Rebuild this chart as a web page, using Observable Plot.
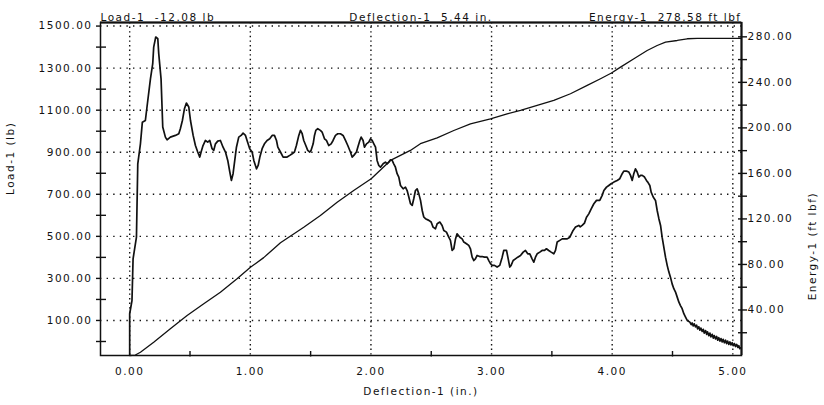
<!DOCTYPE html>
<html><head><meta charset="utf-8">
<script src="https://cdn.jsdelivr.net/npm/d3@7"></script>
<script src="https://cdn.jsdelivr.net/npm/@observablehq/plot@0.6"></script>
<style>html,body{margin:0;padding:0;background:#fff;}</style>
</head><body><div id="chart"></div>
<script>
// Load-1 (lb) versus Deflection-1 (in.)
const loadCurve = [
[0,-65],[0,132],[0.019,195],[0.028,393],[0.056,496],[0.067,845],[0.089,940],[0.105,1043],[0.130,1051],[0.150,1146],
[0.172,1249],[0.191,1321],[0.199,1400],[0.216,1448],[0.233,1440],[0.241,1368],[0.260,1249],[0.274,1020],[0.296,972],[0.310,959],
[0.337,972],[0.379,980],[0.407,988],[0.420,1012],[0.437,1051],[0.454,1107],[0.470,1134],[0.490,1115],[0.504,1051],[0.526,980],
[0.545,932],[0.564,901],[0.581,877],[0.592,901],[0.608,932],[0.628,956],[0.647,948],[0.664,956],[0.683,917],[0.697,909],
[0.711,940],[0.730,953],[0.752,956],[0.774,924],[0.794,901],[0.813,861],[0.830,806],[0.843,766],[0.857,798],[0.871,861],
[0.885,924],[0.904,972],[0.924,980],[0.940,991],[0.960,980],[0.973,956],[0.995,917],[1.015,901],[1.029,861],[1.051,821],
[1.065,837],[1.079,877],[1.098,917],[1.117,940],[1.139,956],[1.161,964],[1.181,980],[1.200,980],[1.217,956],[1.228,924],
[1.250,901],[1.272,877],[1.305,877],[1.327,885],[1.347,893],[1.366,901],[1.382,932],[1.402,980],[1.416,1004],[1.430,988],
[1.443,956],[1.460,932],[1.476,909],[1.493,901],[1.504,909],[1.521,940],[1.532,980],[1.543,1004],[1.559,1012],[1.581,1004],
[1.595,996],[1.615,964],[1.631,956],[1.650,932],[1.670,940],[1.686,956],[1.706,980],[1.725,988],[1.747,988],[1.769,980],
[1.789,956],[1.808,932],[1.830,901],[1.844,877],[1.858,885],[1.880,901],[1.891,924],[1.908,956],[1.919,972],[1.935,956],
[1.946,924],[1.963,940],[1.982,948],[1.996,964],[2.010,956],[2.024,940],[2.038,924],[2.051,861],[2.065,837],[2.079,829],
[2.101,845],[2.120,853],[2.134,845],[2.148,853],[2.162,864],[2.176,861],[2.189,845],[2.203,829],[2.217,798],[2.231,782],
[2.245,742],[2.267,726],[2.286,734],[2.300,718],[2.314,687],[2.328,655],[2.342,647],[2.355,679],[2.369,718],[2.383,726],
[2.397,702],[2.411,671],[2.425,623],[2.438,592],[2.452,584],[2.480,576],[2.499,568],[2.515,544],[2.535,536],[2.549,560],
[2.571,568],[2.590,552],[2.604,528],[2.626,520],[2.645,496],[2.659,481],[2.673,433],[2.687,441],[2.701,488],[2.714,512],
[2.737,496],[2.756,488],[2.770,473],[2.792,465],[2.811,457],[2.825,441],[2.839,401],[2.853,385],[2.866,393],[2.880,409],
[2.902,404],[2.922,404],[2.941,401],[2.963,401],[2.977,385],[2.991,370],[3.005,362],[3.024,362],[3.046,354],[3.068,362],
[3.088,401],[3.101,433],[3.124,433],[3.135,401],[3.151,354],[3.162,362],[3.179,385],[3.198,393],[3.217,401],[3.240,409],
[3.262,425],[3.281,433],[3.300,417],[3.317,417],[3.336,393],[3.350,377],[3.364,401],[3.378,417],[3.400,425],[3.419,433],
[3.439,433],[3.455,441],[3.474,433],[3.494,425],[3.516,417],[3.530,433],[3.544,473],[3.566,481],[3.585,488],[3.604,488],
[3.627,488],[3.649,496],[3.676,528],[3.696,544],[3.723,552],[3.735,545],[3.751,552],[3.770,563],[3.787,591],[3.806,607],
[3.826,631],[3.848,655],[3.870,671],[3.897,671],[3.917,695],[3.931,718],[3.953,734],[3.972,742],[3.991,750],[4.014,758],
[4.041,766],[4.063,774],[4.083,798],[4.096,810],[4.119,810],[4.138,806],[4.152,790],[4.166,766],[4.179,798],[4.193,821],
[4.207,806],[4.221,782],[4.235,790],[4.249,790],[4.268,782],[4.284,766],[4.295,758],[4.312,742],[4.323,710],[4.340,687],
[4.359,671],[4.373,623],[4.387,584],[4.401,552],[4.414,496],[4.428,449],[4.442,401],[4.456,362],[4.470,330],[4.483,306],
[4.497,274],[4.511,251],[4.525,235],[4.539,211],[4.553,187],[4.566,171],[4.580,156],[4.594,132],[4.608,116],[4.622,100],
[4.644,92],[4.655,80],[4.663,88],[4.672,74],[4.680,84],[4.691,70],[4.700,78],[4.708,60],[4.718,70],[4.727,54],
[4.735,64],[4.746,48],[4.755,58],[4.763,40],[4.774,52],[4.783,34],[4.790,46],[4.801,28],[4.810,40],[4.818,22],
[4.829,34],[4.838,16],[4.846,28],[4.857,12],[4.866,24],[4.875,6],[4.884,18],[4.893,2],[4.902,14],[4.912,-2],
[4.920,10],[4.930,-6],[4.940,6],[4.948,-10],[4.957,2],[4.967,-14],[4.976,-2],[4.985,-16],[4.995,-6],[5.004,-20],
[5.013,-10],[5.022,-24],[5.032,-14],[5.042,-28],[5.050,-20],[5.058,-34],[5.064,-30]
];
// Energy-1 (ft lbf) versus Deflection-1 (in.)
const energyCurve = [
[0,0],[0.047,0.4],[0.089,2.9],[0.199,11.7],[0.337,23.5],[0.476,35.1],[0.614,45.4],[0.752,55.6],[0.890,67.4],[1.001,77.5],
[1.111,86.0],[1.250,99.0],[1.443,112.7],[1.581,123.0],[1.720,134.7],[1.857,145.0],[2.002,155.3],[2.162,171.4],[2.327,180.2],
[2.410,186.1],[2.549,191.3],[2.687,197.7],[2.825,203.6],[2.991,208.0],[3.129,212.4],[3.240,215.3],[3.378,219.7],[3.516,224.1],
[3.654,230.0],[3.793,237.3],[3.903,243.2],[3.994,248.2],[4.069,253.4],[4.180,260.7],[4.290,268.0],[4.373,272.4],[4.442,275.3],
[4.539,276.8],[4.622,278.3],[4.705,278.6],[5.064,278.6]
];
const xTicks = [0, 1, 2, 3, 4, 5];
const xMinorTicks = [0.5, 1.5, 2.5, 3.5, 4.5];
const loadTicks = [100, 300, 500, 700, 900, 1100, 1300, 1500];
const loadMinorTicks = [0, 200, 400, 600, 800, 1000, 1200, 1400];
const energyTicks = [40, 80, 120, 160, 200, 240, 280];
const energyMinorTicks = [20, 60, 100, 140, 180, 220, 260];
const headerTexts = ["Load-1\u00a0\u00a0-12.08 lb", "Deflection-1\u00a0\u00a05.44 in.", "Energy-1\u00a0\u00a0278.58 ft lbf"];
const xTitle = "Deflection-1 (in.)";
const loadTitle = "Load-1 (lb)";
const energyTitle = "Energy-1 (ft lbf)";

const xDomain = [-0.242, 5.072];
const loadDomain = [-66.6, 1517];
const energyDomain = [0, 292.6];
const W = 824, H = 405, mL = 100, mR = 83, mT = 22, mB = 50;
const toLoad = d3.scaleLinear(energyDomain, loadDomain);
const pxX = (xDomain[1] - xDomain[0]) / (W - mL - mR);
const pxY = (loadDomain[1] - loadDomain[0]) / (H - mT - mB);
const ink = "#111";

const chart = Plot.plot({
  width: W, height: H,
  marginLeft: mL, marginRight: mR, marginTop: mT, marginBottom: mB,
  style: {fontFamily: "DejaVu Sans", fontSize: "10.5px", letterSpacing: "1.5px", color: ink, background: "#fff"},
  x: {domain: xDomain},
  y: {domain: loadDomain},
  marks: [
    Plot.ruleX(xTicks, {stroke: ink, strokeWidth: 1.4, strokeDasharray: "1.4,3.2"}),
    Plot.ruleY(loadTicks, {stroke: ink, strokeWidth: 1.4, strokeDasharray: "1.4,5.2"}),
    Plot.line(energyCurve, {x: d => d[0], y: d => toLoad(d[1]), stroke: ink, strokeWidth: 1.3}),
    Plot.line(loadCurve, {x: d => d[0], y: d => d[1], stroke: ink, strokeWidth: 1.7}),
    Plot.frame({stroke: ink, strokeWidth: 1.5}),
    Plot.ruleY([loadDomain[1]], {stroke: ink, strokeWidth: 2.2}),
    Plot.ruleX([xDomain[1]], {stroke: ink, strokeWidth: 2}),
    // left axis
    Plot.ruleY(loadTicks, {x1: xDomain[0] - 4 * pxX, x2: xDomain[0], stroke: ink, strokeWidth: 1.4}),
    Plot.ruleY(loadMinorTicks, {x1: xDomain[0] - 4 * pxX, x2: xDomain[0] + 6 * pxX, stroke: ink, strokeWidth: 1.4}),
    Plot.axisY({ticks: loadTicks, tickFormat: d => d.toFixed(2), tickSize: 0, tickPadding: 8, label: null}),
    // bottom axis
    Plot.ruleX(xMinorTicks, {y1: loadDomain[0] - 1.5 * pxY, y2: loadDomain[0] + 4 * pxY, stroke: ink, strokeWidth: 1.4}),
    Plot.axisX({ticks: xTicks, tickFormat: d => d.toFixed(2), tickSize: 0, tickPadding: 12, label: null}),
    // right axis (energy)
    Plot.ruleY(energyTicks.concat(energyMinorTicks), {y: d => toLoad(d), x1: xDomain[1] - 3 * pxX, x2: xDomain[1] + 6 * pxX, stroke: ink, strokeWidth: 1.4}),
    Plot.text(energyTicks, {y: d => toLoad(d), text: d => d.toFixed(2), frameAnchor: "right", dx: 6, textAnchor: "start", fill: ink}),
    // titles
    Plot.text([headerTexts[0]], {text: d => d, frameAnchor: "top-left", textAnchor: "start", dy: -9, fill: ink}),
    Plot.text([headerTexts[1]], {text: d => d, frameAnchor: "top", dy: -9, fill: ink}),
    Plot.text([headerTexts[2]], {text: d => d, frameAnchor: "top-right", textAnchor: "end", dy: -9, fill: ink}),
    Plot.text([xTitle], {text: d => d, frameAnchor: "bottom", dy: 39, fill: ink}),
    Plot.text([loadTitle], {text: d => d, frameAnchor: "left", dx: -90, dy: 6, rotate: -90, fill: ink, letterSpacing: "1px"}),
    Plot.text([energyTitle], {text: d => d, frameAnchor: "right", dx: 71, dy: 3, rotate: -90, fill: ink, letterSpacing: "0.8px"})
  ]
});
document.getElementById("chart").appendChild(chart);
</script>
</body></html>
